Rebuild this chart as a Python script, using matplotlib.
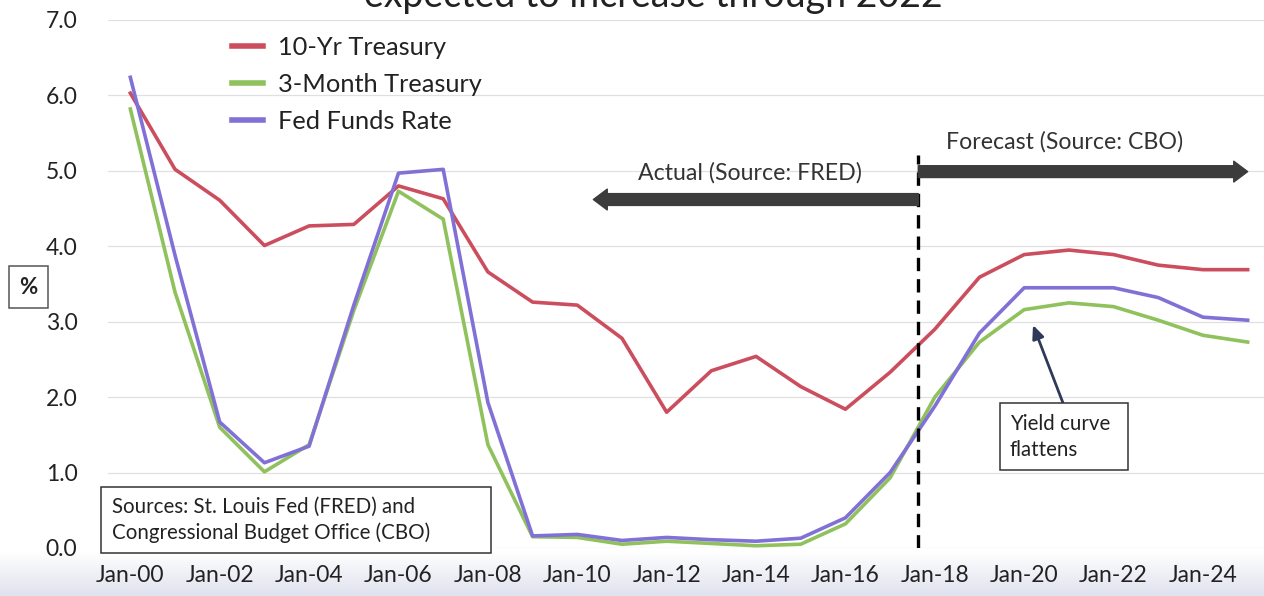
import numpy as np
import matplotlib.pyplot as plt
from matplotlib.patches import Rectangle, FancyArrowPatch

plt.rcParams['font.family'] = ['Lato', 'DejaVu Sans']

# Annual averages, 2000-2017 actual (FRED), 2018-2025 forecast (CBO)
years = list(range(2000, 2026))
treasury_10yr = [6.03, 5.02, 4.61, 4.01, 4.27, 4.29, 4.80, 4.63, 3.66, 3.26,
                 3.22, 2.78, 1.80, 2.35, 2.54, 2.14, 1.84, 2.33, 2.90, 3.59,
                 3.89, 3.95, 3.89, 3.75, 3.69, 3.69]
treasury_3mo = [5.82, 3.39, 1.60, 1.01, 1.37, 3.15, 4.73, 4.36, 1.37, 0.15,
                0.14, 0.05, 0.09, 0.06, 0.03, 0.05, 0.32, 0.93, 2.00, 2.73,
                3.16, 3.25, 3.20, 3.02, 2.82, 2.73]
fed_funds = [6.24, 3.88, 1.67, 1.13, 1.35, 3.22, 4.97, 5.02, 1.93, 0.16,
             0.18, 0.10, 0.14, 0.11, 0.09, 0.13, 0.40, 1.00, 1.88, 2.85,
             3.45, 3.45, 3.45, 3.32, 3.06, 3.02]
tick_labels = ['Jan-%02d' % (y % 100) for y in years[::2] if y <= 2024]
split_x = 17.63  # where actual data stops and the forecast starts

red = '#CC4E5E'
green = '#8FC25C'
purple = '#8171D6'

fig = plt.figure(figsize=(12.64, 5.96), dpi=100)

# light band at the bottom of the slide
band = fig.add_axes([0, 0, 1, 0.075], zorder=-5)
grad = np.linspace(0, 1, 50).reshape(-1, 1)
band.imshow(grad, aspect='auto', cmap=plt.matplotlib.colors.LinearSegmentedColormap.from_list(
    'band', ['#E0E2EE', '#FFFFFF']), extent=[0, 1, 0, 1], origin='lower')
band.axis('off')

ax = fig.add_axes([108 / 1264, 48 / 596, 1162 / 1264, 528 / 596])
ax.patch.set_alpha(0)
x = np.arange(len(years))
ax.plot(x, treasury_10yr, color=red, lw=2.6, label='10-Yr Treasury', zorder=3)
ax.plot(x, treasury_3mo, color=green, lw=2.6, label='3-Month Treasury', zorder=3)
ax.plot(x, fed_funds, color=purple, lw=2.6, label='Fed Funds Rate', zorder=4)

ax.set_xlim(-0.5, len(years) - 0.5)
ax.set_ylim(0, 7)
ax.set_yticks(np.arange(0, 8))
ax.set_yticklabels(['%.1f' % v for v in range(8)])
ax.set_xticks(x[::2][:len(tick_labels)])
ax.set_xticklabels(tick_labels)
ax.tick_params(length=0, labelsize=16.5, colors='#222222')
ax.tick_params(axis='y', pad=22)
ax.tick_params(axis='x', pad=12)
ax.grid(axis='y', color='#E0E0E0', lw=0.9)
ax.set_axisbelow(True)
for s in ax.spines.values():
    s.set_visible(False)

leg = ax.legend(loc='upper left', bbox_to_anchor=(232 / 1264, 560 / 596),
                bbox_transform=fig.transFigure, frameon=False, fontsize=18.3,
                handlelength=1.2, handletextpad=0.6, labelspacing=0.55,
                borderpad=0, borderaxespad=0)
for h in leg.get_lines():
    h.set_linewidth(4)
for t in leg.get_texts():
    t.set_color('#222222')

# actual / forecast divider
ax.vlines(split_x, 0, 5.21, colors='black', linestyles=(0, (4, 2.4)), lw=2.4, zorder=5)
arrow_style = 'simple,head_width=1.5,head_length=1.0,tail_width=0.85'
ax.add_patch(FancyArrowPatch((split_x, 4.62), (10.36, 4.62), arrowstyle=arrow_style,
                             mutation_scale=10, color='#3C3C3C', shrinkA=0, shrinkB=0, zorder=5))
ax.add_patch(FancyArrowPatch((split_x, 4.99), (25.0, 4.99), arrowstyle=arrow_style,
                             mutation_scale=10, color='#3C3C3C', shrinkA=0, shrinkB=0, zorder=5))
ax.text(13.87, 4.97, 'Actual (Source: FRED)', ha='center', va='center', fontsize=16.7, color='#333333')
ax.text(20.9, 5.38, 'Forecast (Source: CBO)', ha='center', va='center', fontsize=16.7, color='#333333')

# sources box
fig.patches.append(Rectangle((101 / 1264, 43 / 596), 390 / 1264, 66 / 596,
                             transform=fig.transFigure, facecolor='white',
                             edgecolor='#333333', lw=1.1, zorder=6))
fig.text(112 / 1264, 76 / 596, 'Sources: St. Louis Fed (FRED) and\nCongressional Budget Office (CBO)',
         ha='left', va='center', fontsize=14.8, linespacing=1.38, color='#222222', zorder=7)

# yield curve note
fig.patches.append(Rectangle((1000 / 1264, 126 / 596), 128 / 1264, 67 / 596,
                             transform=fig.transFigure, facecolor='white',
                             edgecolor='#333333', lw=1.1, zorder=6))
fig.text(1010 / 1264, 159 / 596, 'Yield curve\nflattens', ha='left', va='center',
         fontsize=14.8, linespacing=1.38, color='#222222', zorder=7)
ax.annotate('', xy=(1033, 271), xycoords='figure pixels', xytext=(1063, 193),
            textcoords='figure pixels',
            arrowprops=dict(arrowstyle='-|>,head_width=0.35,head_length=0.8',
                            color='#2E3A59', lw=2, shrinkA=0, shrinkB=0))

# % label
fig.patches.append(Rectangle((9 / 1264, 288 / 596), 39 / 1264, 42 / 596,
                             transform=fig.transFigure, facecolor='white',
                             edgecolor='#555555', lw=1.1))
fig.text(28.5 / 1264, 309 / 596, '%', ha='center', va='center', fontsize=16,
         fontweight='bold', color='#222222')

# title, cut off at the top of the picture
fig.text(653 / 1264, 589 / 596, 'expected to increase through 2022', ha='center',
         va='baseline', fontsize=27, color='#222222')

fig.savefig('out.png', dpi=100, facecolor='white')
